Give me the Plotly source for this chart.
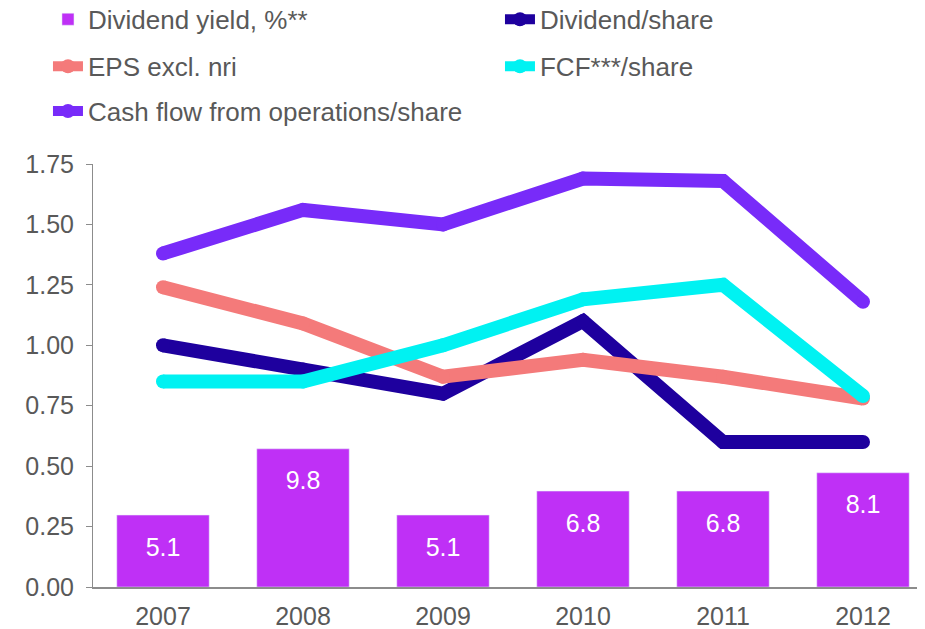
import plotly.graph_objects as go

years = ["2007", "2008", "2009", "2010", "2011", "2012"]
dividend_yield = [5.1, 9.8, 5.1, 6.8, 6.8, 8.1]
dividend_share = [1.00, 0.90, 0.80, 1.10, 0.60, 0.60]
eps_excl_nri = [1.24, 1.09, 0.87, 0.94, 0.87, 0.78]
fcf_share = [0.85, 0.85, 1.00, 1.19, 1.25, 0.79]
cfo_share = [1.38, 1.56, 1.50, 1.69, 1.68, 1.18]

grey = "#595959"
font = "Liberation Sans, Arial, sans-serif"

fig = go.Figure()

fig.add_trace(go.Bar(
    x=years, y=dividend_yield, name="Dividend yield, %**",
    yaxis="y2", marker=dict(color="#BF30F6"),
    text=[str(v) for v in dividend_yield],
    texttemplate="<span style='font-size:6px'> </span><br>%{text}",
    textposition="inside", insidetextanchor="end", textangle=0,
    textfont=dict(color="white", size=25, family=font),
    legend="legend",
))


def line(vals, name, color, leg):
    return go.Scatter(
        x=years, y=vals, name=name, mode="lines+markers",
        line=dict(color=color, width=14),
        marker=dict(color=color, size=14),
        legend=leg,
    )


fig.add_trace(line(dividend_share, "Dividend/share", "#1E009E", "legend"))
fig.add_trace(line(eps_excl_nri, "EPS excl. nri", "#F47A7A", "legend2"))
fig.add_trace(line(fcf_share, "FCF***/share", "#00F2F2", "legend2"))
fig.add_trace(line(cfo_share, "Cash flow from operations/share", "#782BF9", "legend3"))

leg = dict(orientation="h", x=-0.0536, xanchor="left", yanchor="middle",
           font=dict(size=26, color=grey, family=font),
           entrywidth=407, entrywidthmode="pixels",
           bgcolor="rgba(0,0,0,0)", traceorder="normal")

fig.update_layout(
    width=925, height=629,
    margin=dict(l=85, r=0, t=156, b=50, autoexpand=False),
    paper_bgcolor="white", plot_bgcolor="white",
    font=dict(family=font, color=grey, size=25),
    bargap=0.34,
    showlegend=True,
    legend=dict(leg, y=1.342),
    legend2=dict(leg, y=1.231),
    legend3=dict(leg, y=1.125),
    xaxis=dict(showgrid=False, showline=True, linecolor="#8C8C8C", linewidth=2,
               ticks="", ticklabelstandoff=6, tickfont=dict(size=25, color=grey)),
    yaxis=dict(range=[0, 1.75], tickvals=[0, 0.25, 0.5, 0.75, 1.0, 1.25, 1.5, 1.75],
               tickformat=".2f", showgrid=False, zeroline=False,
               showline=True, linecolor="#8C8C8C", linewidth=1,
               ticks="outside", ticklen=6, tickcolor="#8C8C8C",
               ticklabelstandoff=7, tickfont=dict(size=25, color=grey)),
    yaxis2=dict(range=[0, 30], overlaying="y", side="right", visible=False),
)

fig.write_html("out.html")
